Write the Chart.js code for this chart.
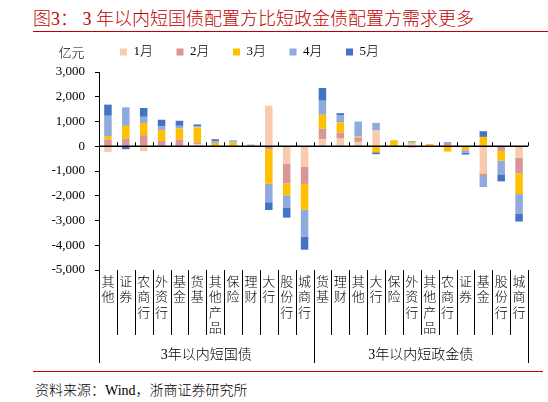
<!DOCTYPE html>
<html>
<head>
<meta charset="utf-8">
<script src="https://cdn.jsdelivr.net/npm/chart.js@4.4.1/dist/chart.umd.min.js"></script>
<style>
  body { margin: 0; width: 548px; height: 402px; position: relative; background: #fff; overflow: hidden;
         font-family: 'Liberation Serif', 'Noto Sans CJK SC', serif; font-weight: 300; }
  #title { position: absolute; left: 33px; top: 4px; font-size: 18px; color: #c00000; white-space: pre; }
  .rule { position: absolute; left: 33px; height: 0; border-top: 1.5px solid #c00000; }
  #box { position: absolute; left: 0; top: 40px; width: 548px; height: 328px; }
  #source { position: absolute; left: 35px; top: 379px; font-size: 14px; color: #000; white-space: pre; }
</style>
</head>
<body>
<div id="title">图3： 3 年以内短国债配置方比短政金债配置方需求更多</div>
<div class="rule" style="top:31px;width:515px"></div>
<div id="box"><canvas id="chart"></canvas></div>
<div class="rule" style="top:371px;width:510px"></div>
<div id="source">资料来源：Wind，浙商证券研究所</div>
<script>
// categories: first 12 are 3年以内短国债, last 12 are 3年以内短政金债
const categories = ['其他', '证券', '农商行', '外资行', '基金', '货基', '其他产品', '保险', '理财', '大行', '股份行', '城商行',
                    '货基', '理财', '其他', '大行', '保险', '外资行', '其他产品', '农商行', '证券', '基金', '股份行', '城商行'];
const groups = ['3年以内短国债', '3年以内短政金债'];
const groupSize = 12;
const months = ['1月', '2月', '3月', '4月', '5月'];
const unit = '亿元';

// 亿元
const jan = [-230, 0, -200, 0, 0, 80, 0, 0, 0, 1640, -700, -835,
             284, 310, 175, 635, 0, 100, 40, 0, 0, -1095, 0, -460];
const feb = [275, 315, 450, 220, 275, 80, 0, 0, 0, -120, -795, -685,
             432, 243, 175, 0, 0, -50, 0, 90, 0, -108, -190, -635];
const mar = [137, 507, 490, 440, 440, 600, 137, 150, 0, -1400, -490, -1040,
             554, 405, 40, -243, 245, 40, 55, -215, -160, 378, -390, -838];
const apr = [820, 750, 250, 150, 110, 40, 80, 55, 70, -740, -490, -1100,
             568, 284, 608, 310, 0, 70, 0, 80, -95, -446, -555, -784];
const may = [450, -120, 355, 260, 205, 80, 70, 25, 0, -315, -410, -520,
             514, 95, 0, -80, 0, 0, 0, 0, -80, 230, -284, -324];

const yTicks = [3000, 2000, 1000, 0, -1000, -2000, -3000, -4000, -5000];
const colors = ['#f8cbad', '#d99694', '#ffc000', '#8faadc', '#4472c4'];

const FONT = "'Liberation Serif', 'Noto Sans CJK SC', serif";
Chart.defaults.font.family = FONT;
Chart.defaults.font.weight = '300';
Chart.defaults.color = '#000';

const decor = {
  id: 'decor',
  afterLayout(chart) {
    const lg = chart.legend;
    const pad = lg.options.labels.padding;
    lg.left = 120 - pad;
    lg.top = 5.5 - pad;
  },
  afterDraw(chart) {
    const { ctx, chartArea, scales: { x, y } } = chart;
    const y0 = y.getPixelForValue(0);
    const n = categories.length;
    const seg = (x1, y1, x2, y2) => { ctx.beginPath(); ctx.moveTo(x1, y1); ctx.lineTo(x2, y2); ctx.stroke(); };
    ctx.save();
    ctx.strokeStyle = '#000';
    ctx.lineWidth = 1.5;
    seg(chartArea.left, y0, chartArea.right, y0);
    ctx.lineWidth = 1;
    for (let i = 1; i <= n; i++) {
      const bx = Math.round(x.getPixelForValue(i - 0.5)) + 0.5;
      seg(bx, y0, bx, y0 - 4);
    }
    // separators under the category labels
    for (let i = 0; i <= n; i++) {
      const bx = Math.round(x.getPixelForValue(i - 0.5)) + 0.5;
      const end = (i % groupSize === 0) ? chartArea.bottom + 93 : chartArea.bottom + 65;
      seg(bx, chartArea.bottom, bx, end);
    }
    ctx.fillStyle = '#000';
    ctx.textAlign = 'center';
    ctx.textBaseline = 'middle';
    ctx.font = "300 14px " + FONT;
    groups.forEach((g, k) => {
      const cx = x.getPixelForValue(k * groupSize + (groupSize - 1) / 2);
      ctx.fillText(g, cx, chartArea.bottom + 85);
    });
    ctx.font = "300 13px " + FONT;
    ctx.fillText(unit, 71.5, 14);
    ctx.restore();
  }
};

new Chart(document.getElementById('chart'), {
  type: 'bar',
  data: {
    labels: categories.map(c => c.split('')),
    datasets: [jan, feb, mar, apr, may].map((d, i) => ({
      label: months[i],
      data: d,
      backgroundColor: colors[i],
      borderWidth: 0,
      stack: 's',
      categoryPercentage: 1,
      barPercentage: 0.42
    }))
  },
  options: {
    responsive: true,
    maintainAspectRatio: false,
    animation: false,
    layout: { padding: { left: 0, right: 20, top: 0, bottom: 0 } },
    plugins: {
      legend: {
        position: 'top',
        align: 'start',
        maxHeight: 32,
        labels: { boxWidth: 7, boxHeight: 7, padding: 23.5, font: { size: 13 }, color: '#000' }
      },
      tooltip: { enabled: false }
    },
    scales: {
      x: {
        stacked: true,
        grid: { display: false, drawTicks: false },
        border: { display: false },
        ticks: { autoSkip: false, maxRotation: 0, minRotation: 0, padding: 5,
                 font: { size: 13, lineHeight: 1.18 }, color: '#000' },
        afterFit(scale) { scale.height = 98; }
      },
      y: {
        stacked: true,
        min: -5000,
        max: 3000,
        afterBuildTicks(scale) { scale.ticks = yTicks.map(v => ({ value: v })); },
        grid: { drawOnChartArea: false, drawTicks: true, tickLength: 4, color: '#000' },
        border: { display: true, color: '#000', width: 1 },
        ticks: { padding: 10, font: { size: 13 }, color: '#000' },
        afterFit(scale) { scale.width = 99; }
      }
    }
  },
  plugins: [decor]
});
</script>
</body>
</html>
